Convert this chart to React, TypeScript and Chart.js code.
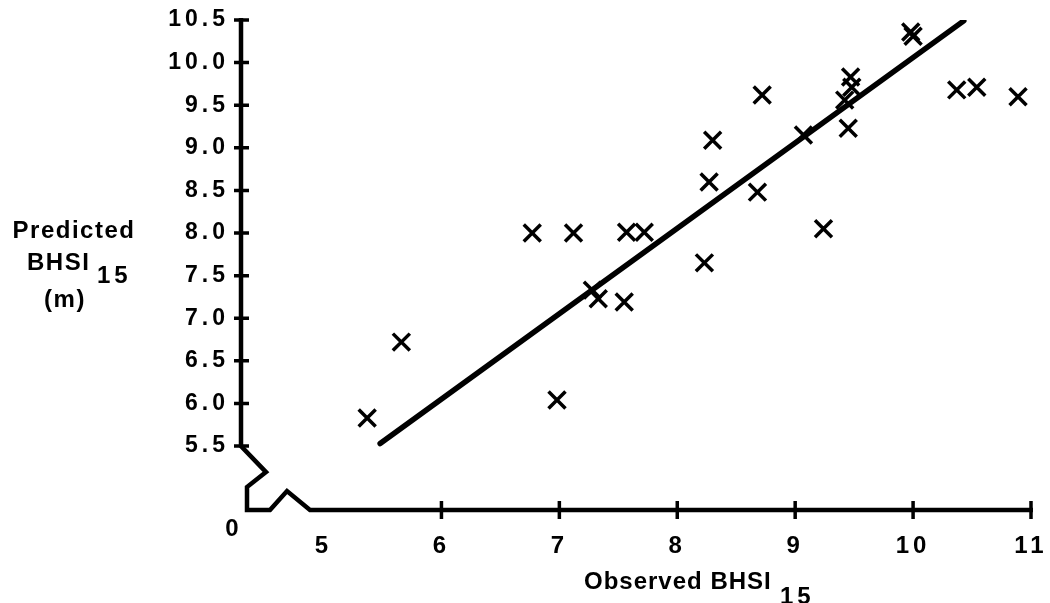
import React, { useEffect, useRef } from "react";
import { Chart, registerables } from "chart.js";

Chart.register(...registerables);

// Observed (x) and predicted (y) BHSI15 values
const observed = [5.37, 5.66, 6.98, 6.77, 7.12, 7.57, 7.72, 7.28, 7.33, 7.55, 8.23, 8.27, 8.3, 8.72, 8.68, 9.07, 9.24, 9.47, 9.48, 9.42, 9.45, 9.98, 10.0, 10.37, 10.54, 10.89];
const predicted = [5.83, 6.72, 6.04, 8.0, 8.0, 8.01, 8.01, 7.33, 7.23, 7.19, 7.65, 8.6, 9.09, 9.62, 8.48, 9.15, 8.05, 9.83, 9.71, 9.56, 9.23, 10.36, 10.31, 9.68, 9.71, 9.6];

// fitted line end points
const fitX = [5.48, 10.43];
const fitY = [5.53, 10.49];

// axis ticks
const xTickLabels = [5, 6, 7, 8, 9, 10, 11];
const xTickMarks = [6, 7, 8, 9, 10, 11];
const yTickLabels = [5.5, 6.0, 6.5, 7.0, 7.5, 8.0, 8.5, 9.0, 9.5, 10.0, 10.5];
const originLabel = "0";

const xTitle = "Observed BHSI";
const yTitleLines = ["Predicted", "BHSI", "(m)"];
const subscript = "15";

const FONT = "'Liberation Sans', Arial, Helvetica, sans-serif";

const axesPlugin = {
  id: "brokenAxes",
  beforeDraw(chart: any) {
    chart.ctx.letterSpacing = "4px";
  },
  afterDraw(chart: any) {
    const { ctx, chartArea, scales } = chart;
    const x = scales.x;
    const y = scales.y;
    const xL = chartArea.left;
    const yB = chartArea.bottom;
    const yTop = y.getPixelForValue(yTickLabels[yTickLabels.length - 1]);
    const yBreak = y.getPixelForValue(yTickLabels[0]);
    const xEnd = x.getPixelForValue(xTickLabels[xTickLabels.length - 1]);
    ctx.save();
    ctx.strokeStyle = "#000";
    ctx.lineWidth = 4.5;
    ctx.lineJoin = "miter";
    ctx.lineCap = "butt";
    ctx.beginPath();
    ctx.moveTo(xL, yTop - 2);
    ctx.lineTo(xL, yBreak);
    ctx.lineTo(xL + 25, yBreak + 26);
    ctx.lineTo(xL + 6, yBreak + 41);
    ctx.lineTo(xL + 6, yB);
    ctx.lineTo(xL + 29, yB);
    ctx.lineTo(xL + 46, yB - 19);
    ctx.lineTo(xL + 69, yB);
    ctx.lineTo(xEnd + 2, yB);
    ctx.stroke();

    ctx.lineWidth = 3.5;
    ctx.beginPath();
    for (const v of yTickLabels) {
      const p = y.getPixelForValue(v);
      ctx.moveTo(xL - 7, p);
      ctx.lineTo(xL + 8, p);
    }
    for (const v of xTickMarks) {
      const p = x.getPixelForValue(v);
      ctx.moveTo(p, yB - 9);
      ctx.lineTo(p, yB + 9);
    }
    ctx.stroke();

    ctx.fillStyle = "#000";
    ctx.textBaseline = "middle";
    ctx.font = `bold 24px ${FONT}`;
    ctx.letterSpacing = "4px";
    ctx.textAlign = "center";
    ctx.fillText(originLabel, xL - 7, yB + 19);

    // x title
    ctx.textAlign = "left";
    ctx.letterSpacing = "1px";
    ctx.fillText(xTitle, 584, 582);
    ctx.letterSpacing = "4px";
    ctx.fillText(subscript, 780, 597);

    // y title
    ctx.letterSpacing = "1.5px";
    ctx.textAlign = "center";
    ctx.fillText(yTitleLines[0], 74, 231);
    ctx.textAlign = "left";
    ctx.fillText(yTitleLines[1], 27, 263);
    ctx.letterSpacing = "4px";
    ctx.fillText(subscript, 97, 276);
    ctx.letterSpacing = "1.5px";
    ctx.textAlign = "center";
    ctx.fillText(yTitleLines[2], 65, 300);
    ctx.restore();
    ctx.letterSpacing = "0px";
  },
};

export default function App() {
  const canvasRef = useRef<HTMLCanvasElement | null>(null);

  useEffect(() => {
    const canvas = canvasRef.current;
    if (!canvas) return;
    const points = observed.map((v, i) => ({ x: v, y: predicted[i] }));
    const line = fitX.map((v, i) => ({ x: v, y: fitY[i] }));
    const chart = new Chart(canvas, {
      type: "scatter",
      data: {
        datasets: [
          {
            type: "line",
            data: line,
            borderColor: "#000",
            borderWidth: 5.5,
            borderCapStyle: "round",
            pointRadius: 0,
            fill: false,
          } as any,
          {
            data: points,
            pointStyle: "crossRot",
            pointRadius: 12,
            pointBorderWidth: 3.5,
            borderColor: "#000",
            backgroundColor: "#000",
          },
        ],
      },
      options: {
        animation: false,
        responsive: false,
        maintainAspectRatio: false,
        layout: { padding: { left: 0, top: 20, right: 19, bottom: 0 } },
        plugins: { legend: { display: false }, tooltip: { enabled: false } },
        scales: {
          x: {
            type: "linear",
            min: 4.3,
            max: 11,
            grid: { display: false, drawTicks: false },
            border: { display: false },
            afterBuildTicks: (s: any) => {
              s.ticks = xTickLabels.map((v) => ({ value: v }));
            },
            afterFit: (s: any) => {
              s.height = 93;
              s.paddingLeft = 0;
              s.paddingRight = 0;
            },
            ticks: {
              autoSkip: false,
              maxRotation: 0,
              minRotation: 0,
              padding: 22,
              color: "#000",
              font: { family: FONT, size: 24, weight: "bold" },
              callback: (v: any) => String(v),
            },
          },
          y: {
            type: "linear",
            min: 4.75,
            max: 10.5,
            grid: { display: false, drawTicks: false },
            border: { display: false },
            afterBuildTicks: (s: any) => {
              s.ticks = yTickLabels.map((v) => ({ value: v }));
            },
            afterFit: (s: any) => {
              s.width = 241;
              s.paddingTop = 0;
              s.paddingBottom = 0;
            },
            ticks: {
              autoSkip: false,
              padding: 12,
              color: "#000",
              font: { family: FONT, size: 23, weight: "bold" },
              callback: (v: any) => Number(v).toFixed(1),
            },
          },
        },
      },
      plugins: [axesPlugin],
    });
    return () => chart.destroy();
  }, []);

  return (
    <div style={{ position: "fixed", left: 0, top: 0, width: 1050, height: 603, background: "#fff" }}>
      <canvas ref={canvasRef} width={1050} height={603} style={{ display: "block" }} />
    </div>
  );
}
